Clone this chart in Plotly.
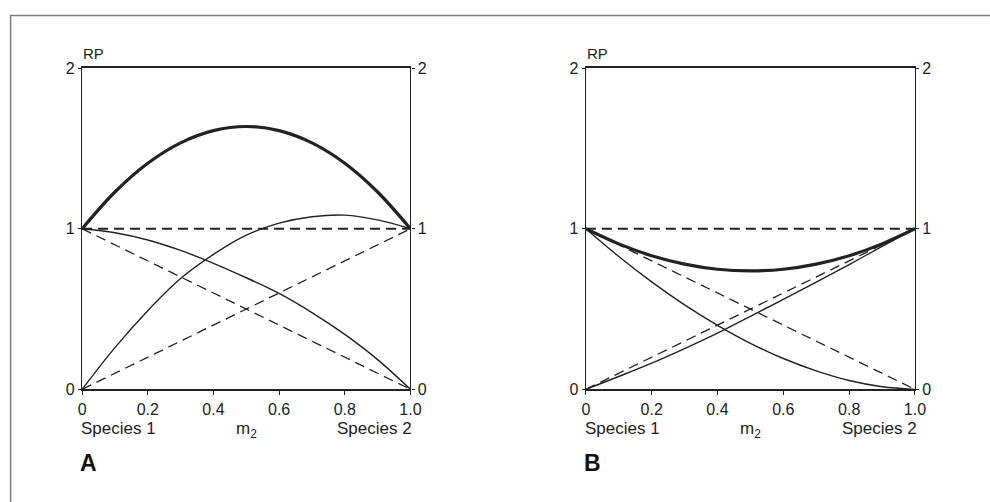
import plotly.graph_objects as go

# ---- data ----
m = [0.0, 0.1, 0.2, 0.3, 0.4, 0.5, 0.6, 0.7, 0.8, 0.9, 1.0]

a_total = [1.0, 1.229, 1.408, 1.535, 1.611, 1.637, 1.611, 1.535, 1.408, 1.229, 1.0]
a_sp1 = [1.0, 0.975, 0.93, 0.865, 0.785, 0.695, 0.597, 0.478, 0.342, 0.185, 0.0]
a_sp2 = [0.0, 0.26, 0.49, 0.69, 0.84, 0.96, 1.035, 1.075, 1.085, 1.055, 1.0]

b_total = [1.0, 0.906, 0.832, 0.78, 0.748, 0.738, 0.748, 0.78, 0.832, 0.906, 1.0]
b_sp1 = [1.0, 0.827, 0.669, 0.526, 0.399, 0.287, 0.192, 0.115, 0.055, 0.016, 0.0]
b_sp2 = [0.0, 0.08, 0.163, 0.254, 0.35, 0.455, 0.56, 0.667, 0.777, 0.89, 1.0]

ends = [0.0, 1.0]
exp_total = [1.0, 1.0]
exp_sp1 = [1.0, 0.0]
exp_sp2 = [0.0, 1.0]

x_tickvals = [0, 0.2, 0.4, 0.6, 0.8, 1.0]
x_ticktext = ["0", "0.2", "0.4", "0.6", "0.8", "1.0"]
y_tickvals = [0, 1, 2]
y_ticktext = ["0", "1", "2"]
panel_labels = ["A", "B"]

INK = "#222222"
FONT = "Liberation Sans, Arial, sans-serif"
W, H = 990, 502

def px(x):
    return x / W

def py(y):
    return 1 - y / H

fig = go.Figure()

def add_panel(xa, ya, yr, total, sp1, sp2):
    fig.add_trace(go.Scatter(x=ends, y=exp_total, mode="lines", xaxis=xa, yaxis=yr,
                             line=dict(color=INK, width=2, dash="10px,6px"), hoverinfo="skip"))
    for yy in (exp_sp1, exp_sp2):
        fig.add_trace(go.Scatter(x=ends, y=yy, mode="lines", xaxis=xa, yaxis=ya,
                                 line=dict(color=INK, width=1.3, dash="10px,6px"), hoverinfo="skip"))
    for yy in (sp1, sp2):
        fig.add_trace(go.Scatter(x=m, y=yy, mode="lines", xaxis=xa, yaxis=ya,
                                 line=dict(color=INK, width=1.4, shape="spline"), hoverinfo="skip"))
    fig.add_trace(go.Scatter(x=m, y=total, mode="lines", xaxis=xa, yaxis=ya,
                             line=dict(color=INK, width=3.2, shape="spline"), hoverinfo="skip"))

add_panel("x", "y", "y3", a_total, a_sp1, a_sp2)
add_panel("x2", "y2", "y4", b_total, b_sp1, b_sp2)

ydom = [py(394.7), py(62.3)]
xdomA = [px(79.3), px(412.7)]
xdomB = [px(590.8), px(925.0)]

xcommon = dict(range=[0, 1], tickvals=x_tickvals, ticktext=x_ticktext, ticks="outside",
               ticklen=4, tickwidth=1.3, tickcolor=INK, showline=True, linewidth=2,
               linecolor=INK, mirror=True, showgrid=False, zeroline=False,
               tickfont=dict(family=FONT, size=16, color=INK), fixedrange=True)
ycommon = dict(range=[0, 2], tickvals=y_tickvals, ticktext=y_ticktext, ticks="outside",
               ticklen=3, tickwidth=1.3, tickcolor=INK, showline=True, linewidth=1.3,
               linecolor=INK, showgrid=False, zeroline=False,
               tickfont=dict(family=FONT, size=16, color=INK), fixedrange=True)

fig.update_layout(
    width=W, height=H, margin=dict(l=0, r=0, t=0, b=0),
    paper_bgcolor="white", plot_bgcolor="white", showlegend=False,
    xaxis=dict(domain=xdomA, anchor="y", **xcommon),
    xaxis2=dict(domain=xdomB, anchor="y2", **xcommon),
    yaxis=dict(domain=ydom, anchor="x", side="left", **ycommon),
    yaxis2=dict(domain=ydom, anchor="x2", side="left", **ycommon),
    yaxis3=dict(overlaying="y", anchor="x", side="right", **ycommon),
    yaxis4=dict(overlaying="y2", anchor="x2", side="right", **ycommon),
)

annotations = []
for xa, lab in (("x", panel_labels[0]), ("x2", panel_labels[1])):
    annotations.append(dict(text="RP", xref=xa + " domain", yref="paper", x=0, y=py(46.7),
                            xanchor="left", yanchor="middle", showarrow=False, xshift=-1,
                            font=dict(family=FONT, size=15, color=INK)))
    annotations.append(dict(text="Species 1", xref=xa, yref="paper", x=0, y=py(435),
                            xanchor="left", yanchor="middle", showarrow=False, xshift=-3,
                            font=dict(family=FONT, size=17, color=INK)))
    annotations.append(dict(text="Species 2", xref=xa, yref="paper", x=1, y=py(435),
                            xanchor="right", yanchor="middle", showarrow=False, xshift=4,
                            font=dict(family=FONT, size=17, color=INK)))
    annotations.append(dict(text="m<sub>2</sub>", xref=xa, yref="paper", x=0.5, y=py(437),
                            xanchor="center", yanchor="middle", showarrow=False,
                            font=dict(family=FONT, size=17, color=INK)))
    annotations.append(dict(text="<b>" + lab + "</b>", xref=xa, yref="paper", x=0, y=py(471),
                            xanchor="left", yanchor="middle", showarrow=False, xshift=-4,
                            font=dict(family=FONT, size=23, color="#111111")))
fig.update_layout(annotations=annotations)

# outer frame (only top and left edges visible in the reference)
fig.add_shape(type="rect", xref="paper", yref="paper", x0=px(6.7), x1=1.05, y0=-0.05, y1=py(7.7),
              line=dict(color="#7a7a7a", width=1.5), fillcolor="rgba(0,0,0,0)", layer="below")

fig.write_html("out.html", config={"displayModeBar": False},
               post_script="document.body.style.margin='0';document.body.style.overflow='hidden';")
